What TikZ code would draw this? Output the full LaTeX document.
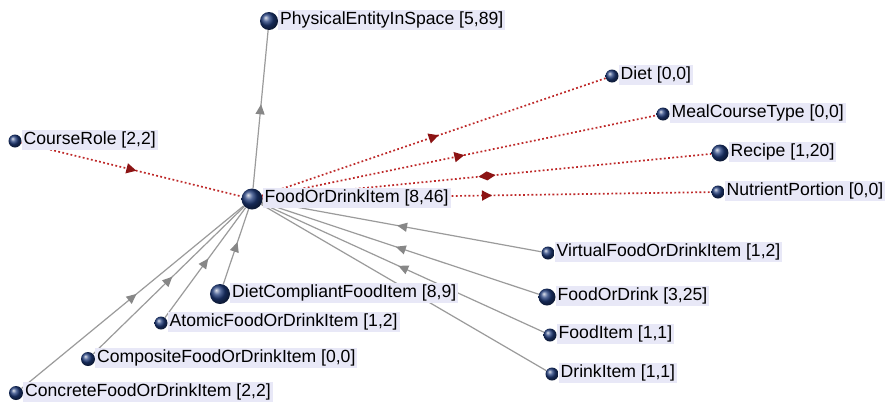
\documentclass[tikz,border=0pt]{standalone}
\usepackage{fontspec}
\setmainfont{Liberation Sans}
\usetikzlibrary{arrows.meta,decorations.markings,backgrounds}

\definecolor{navy}{RGB}{30,58,122}
\definecolor{tagfill}{RGB}{232,232,247}
\definecolor{isagray}{RGB}{155,155,155}
\definecolor{isatip}{RGB}{135,135,135}
\definecolor{reldot}{RGB}{190,40,40}
\definecolor{reltip}{RGB}{140,20,20}

\tikzset{
  ball/.style={circle, inner sep=0pt, draw=none, shading=ball, ball color=navy},
  tag/.style={fill=tagfill, anchor=west, inner xsep=2pt, inner ysep=1.5pt,
    text height=13pt, text depth=4pt, font=\fontsize{17.6}{20}\selectfont},
  isa/.style={draw=isagray, line width=1.2pt, postaction={decorate},
    decoration={markings, mark=at position 0.5 with
      {\arrow[xshift=5pt]{Triangle[length=10pt,width=9pt,color=isatip]}}}},
  rel/.style={draw=reldot, line width=1.7pt, dash pattern=on 1.8pt off 2.4pt,
    postaction={decorate},
    decoration={markings, mark=at position 0.5 with
      {\arrow[xshift=5pt]{Triangle[length=10pt,width=10pt,color=reltip]}}}},
  relpart/.style={draw=reldot, line width=1.7pt, dash pattern=on 1.8pt off 2.4pt,
    postaction={decorate},
    decoration={markings, mark=at position 0.5 with
      {\arrow[xshift=8.5pt]{Diamond[length=17pt,width=9pt,color=reltip]}}}},
}

% class node: name, x, y, radius, caption
\newcommand\onto[5]{%
  \node[tag] (#1-t) at ({#2+#4},{#3-1.5}) {#5};
  \node[ball, minimum size={#4*2pt}] (#1) at (#2,#3) {};}

\begin{document}
\begin{tikzpicture}[x=1pt, y=-1pt]
\useasboundingbox (0,0) rectangle (893,402);

\onto{phys}{269}{21}{9}{PhysicalEntityInSpace [5,89]}
\onto{diet}{612}{76}{6.5}{Diet [0,0]}
\onto{meal}{663}{114}{6.5}{MealCourseType [0,0]}
\onto{course}{15}{141}{6.5}{CourseRole [2,2]}
\onto{recipe}{720}{153}{8.5}{Recipe [1,20]}
\onto{nutr}{718}{192}{6.5}{NutrientPortion [0,0]}
\onto{virt}{548}{253}{6.5}{VirtualFoodOrDrinkItem [1,2]}
\onto{fodr}{547}{297}{8.5}{FoodOrDrink [3,25]}
\onto{food}{550}{335}{6.5}{FoodItem [1,1]}
\onto{drink}{552}{374}{6.5}{DrinkItem [1,1]}
\onto{atomic}{161}{323}{6.5}{AtomicFoodOrDrinkItem [1,2]}
\onto{comp}{88}{359}{7}{CompositeFoodOrDrinkItem [0,0]}
\onto{concrete}{16}{393}{7}{ConcreteFoodOrDrinkItem [2,2]}
\onto{dietc}{220}{294}{10}{DietCompliantFoodItem [8,9]}
\onto{fod}{252}{199}{10.5}{FoodOrDrinkItem [8,46]}

\begin{scope}[on background layer]
  \fill[white] (0,0) rectangle (893,402);
  % subclass links
  \draw[isa] (fod) -- (phys);
  \draw[isa] (virt) -- (fod);
  \draw[isa] (fodr) -- (fod);
  \draw[isa] (food) -- (fod);
  \draw[isa] (drink) -- (fod);
  \draw[isa] (dietc) -- (fod);
  \draw[isa] (atomic) -- (fod);
  \draw[isa] (comp) -- (fod);
  \draw[isa] (concrete) -- (fod);
  % object property links
  \draw[rel] (course) -- (fod);
  \draw[rel] (fod) -- (diet);
  \draw[rel] (fod) -- (meal);
  \draw[relpart] (fod) -- (recipe);
  \draw[rel] (fod) -- (nutr);
\end{scope}
\end{tikzpicture}
\end{document}
